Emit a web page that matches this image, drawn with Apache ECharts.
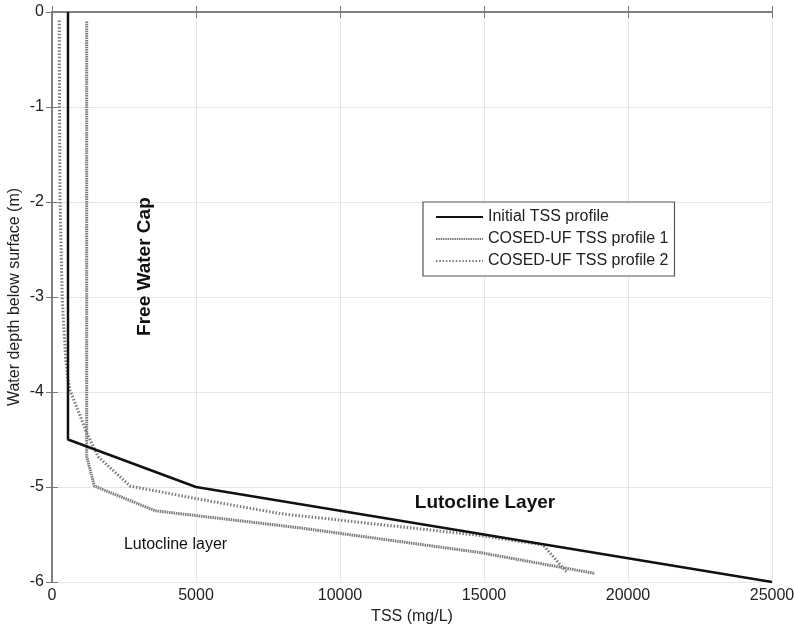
<!DOCTYPE html>
<html>
<head>
<meta charset="utf-8">
<script src="https://cdn.jsdelivr.net/npm/echarts@6/dist/echarts.min.js"></script>
<style>
  html, body { margin: 0; padding: 0; background: #fff; }
  #chart { width: 794px; height: 626px; }
</style>
</head>
<body>
<div id="chart"></div>
<script>
// TSS (mg/L) vs depth (m, negative = below surface)
const initialTss = [555, 555, 5000, 25000]
const initialDepth = [0, -4.5, -5, -6]

const profile1Tss = [1205, 1205, 1470, 3580, 8600, 14860, 18850]
const profile1Depth = [-0.1, -4.68, -4.99, -5.25, -5.43, -5.69, -5.91]

const profile2Tss = [253, 260, 278, 358, 476, 555, 625, 1205, 1600, 2710, 4965, 7920, 14860, 17050, 17880]
const profile2Depth = [-0.09, -1.0, -1.98, -3.03, -3.66, -3.87, -3.98, -4.43, -4.68, -4.99, -5.12, -5.28, -5.51, -5.61, -5.9]

const seriesNames = ['Initial TSS profile', 'COSED-UF TSS profile 1', 'COSED-UF TSS profile 2']

// annotation texts and their data positions [tss, depth]
const noteTexts = ['Free Water Cap', 'Lutocline Layer', 'Lutocline layer']
const notePos = [[3230, -2.68], [15035, -5.17], [4290, -5.61]]

const font = 'Liberation Sans, Arial, sans-serif'
const axisGray = '#7a7a7a'

function pairs(xs, ys) {
  return xs.map((x, i) => [x, ys[i]])
}

const chart = echarts.init(document.getElementById('chart'))

const hiddenAxis = {
  type: 'value',
  axisLine: { show: true, lineStyle: { color: axisGray, width: 1.5 } },
  axisTick: { show: true, inside: true, length: 6, lineStyle: { color: axisGray } },
  axisLabel: { show: false },
  splitLine: { show: false },
}

const option = {
  backgroundColor: '#fff',
  animation: false,
  grid: { left: 52, right: 22, top: 12, bottom: 44, outerBoundsMode: 'none', containLabel: false },
  xAxis: [
    {
      type: 'value',
      min: 0,
      max: 25000,
      interval: 5000,
      name: 'TSS (mg/L)',
      nameLocation: 'middle',
      nameGap: 22,
      nameTextStyle: { fontFamily: font, fontSize: 16, color: '#222', verticalAlign: 'top' },
      axisLine: { show: true, lineStyle: { color: axisGray, width: 1.5 } },
      axisTick: { show: true, inside: true, length: 6, lineStyle: { color: axisGray } },
      axisLabel: { fontFamily: font, fontSize: 16, color: '#222', margin: 6, formatter: (v) => String(v) },
      splitLine: { show: true, lineStyle: { color: '#e6e6e6', width: 1 } },
    },
    { ...hiddenAxis, position: 'top', min: 0, max: 25000, interval: 5000 },
  ],
  yAxis: [
    {
      type: 'value',
      min: -6,
      max: 0,
      interval: 1,
      name: 'Water depth below surface (m)',
      nameLocation: 'middle',
      nameGap: 29,
      nameMoveOverlap: false,
      nameTextStyle: { fontFamily: font, fontSize: 16, color: '#222' },
      axisLine: { show: true, lineStyle: { color: axisGray, width: 1.5 } },
      axisTick: { show: true, inside: true, length: 6, lineStyle: { color: axisGray } },
      axisLabel: { fontFamily: font, fontSize: 16, color: '#222', margin: 8 },
      splitLine: { show: true, lineStyle: { color: '#e6e6e6', width: 1 } },
    },
    { ...hiddenAxis, position: 'right', min: -6, max: 0, interval: 1 },
  ],
  legend: {
    orient: 'vertical',
    left: 423,
    top: 202,
    padding: [7, 6, 7, 12],
    itemGap: 6,
    itemWidth: 47,
    itemHeight: 14,
    borderColor: '#555',
    borderWidth: 1.2,
    backgroundColor: '#fff',
    itemStyle: { opacity: 0 },
    textStyle: { fontFamily: font, fontSize: 16, color: '#222' },
    data: seriesNames,
  },
  series: [
    {
      name: seriesNames[0],
      type: 'line',
      z: 5,
      symbol: 'none',
      color: '#111',
      lineStyle: { color: '#111', width: 2.5 },
      data: pairs(initialTss, initialDepth),
    },
    {
      name: seriesNames[1],
      type: 'line',
      z: 3,
      symbol: 'none',
      color: '#7f7a7a',
      lineStyle: { color: '#7f7a7a', width: 3, type: [1.5, 0.8] },
      data: pairs(profile1Tss, profile1Depth),
    },
    {
      name: seriesNames[2],
      type: 'line',
      z: 4,
      symbol: 'none',
      color: '#7f7a7a',
      lineStyle: { color: '#7f7a7a', width: 3, type: [1.5, 1.8] },
      data: pairs(profile2Tss, profile2Depth),
    },
  ],
}

chart.setOption(option)

// annotations placed through the axes' own scales
const noteStyles = [
  { fontSize: 19, fontWeight: 'bold', rotation: Math.PI / 2 },
  { fontSize: 19, fontWeight: 'bold', rotation: 0 },
  { fontSize: 16, fontWeight: 'normal', rotation: 0 },
]
const graphics = noteTexts.map((text, i) => {
  const [px, py] = chart.convertToPixel({ xAxisIndex: 0, yAxisIndex: 0 }, notePos[i])
  return {
    type: 'text',
    x: px,
    y: py,
    rotation: noteStyles[i].rotation,
    style: {
      text,
      fontFamily: font,
      fontSize: noteStyles[i].fontSize,
      fontWeight: noteStyles[i].fontWeight,
      fill: '#111',
      align: 'center',
      verticalAlign: 'middle',
    },
  }
})
chart.setOption({ graphic: graphics })
</script>
</body>
</html>
